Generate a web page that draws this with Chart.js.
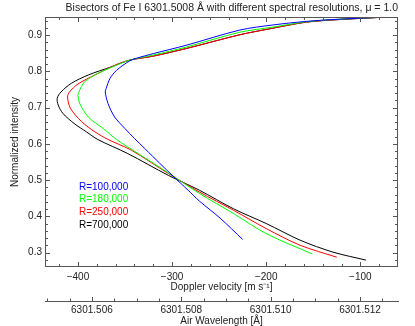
<!DOCTYPE html>
<html>
<head>
<meta charset="utf-8">
<script src="https://cdn.jsdelivr.net/npm/chart.js@4"></script>
<style>
html,body{margin:0;padding:0;background:#fff;}
</style>
</head>
<body>
<canvas id="c" width="415" height="326"></canvas>
<script>
// bisector data: velocity [m/s] vs normalized intensity
const seriesLabels = ['R=100,000', 'R=180,000', 'R=250,000', 'R=700,000'];
const seriesColors = ['#0000ff', '#00ff00', '#ff0000', '#000000'];

const velR100 = [-63, -122, -157, -193, -228, -285, -320, -338, -345, -359, -366, -370, -371, -368, -361, -350, -340, -329, -313, -299, -283, -271, -249, -225];
const intR100 = [0.951, 0.944, 0.938, 0.928, 0.914, 0.872, 0.849, 0.836, 0.829, 0.803, 0.780, 0.753, 0.743, 0.711, 0.674, 0.642, 0.615, 0.587, 0.546, 0.511, 0.472, 0.442, 0.395, 0.336];

const velR180 = [-63, -122, -157, -193, -228, -285, -320, -345, -359, -379, -393, -399, -400, -398, -389, -373, -359, -336, -303, -271, -235, -200, -151];
const intR180 = [0.951, 0.944, 0.937, 0.922, 0.908, 0.867, 0.845, 0.831, 0.817, 0.794, 0.771, 0.743, 0.734, 0.711, 0.674, 0.642, 0.612, 0.573, 0.518, 0.463, 0.408, 0.352, 0.296];

const velR250 = [-63, -122, -157, -193, -228, -285, -320, -345, -358, -382, -400, -409, -411, -408, -396, -382, -368, -343, -304, -271, -235, -200, -164, -125];
const intR250 = [0.951, 0.943, 0.936, 0.919, 0.901, 0.863, 0.842, 0.831, 0.820, 0.790, 0.765, 0.743, 0.729, 0.698, 0.661, 0.633, 0.612, 0.582, 0.518, 0.467, 0.417, 0.366, 0.320, 0.287];

const velR700 = [-63, -122, -157, -193, -228, -285, -320, -345, -365, -389, -407, -418, -422, -421, -416, -404, -391, -379, -347, -304, -271, -235, -200, -164, -129, -94];
const intR700 = [0.951, 0.943, 0.936, 0.919, 0.901, 0.863, 0.842, 0.831, 0.812, 0.790, 0.767, 0.743, 0.726, 0.707, 0.684, 0.656, 0.633, 0.612, 0.573, 0.513, 0.472, 0.421, 0.380, 0.334, 0.301, 0.279];

// tick labels
const velTicks = [-400, -300, -200, -100];
const intTicks = [0.3, 0.4, 0.5, 0.6, 0.7, 0.8, 0.9];
const wlTicks = [6301.506, 6301.508, 6301.510, 6301.512];

const FONT = '"Liberation Sans", Arial, sans-serif';
const axisColor = '#555';
const textColor = '#222';

const toPts = (v, I) => v.map((val, i) => ({x: val, y: I[i]}));
const allVel = [velR100, velR180, velR250, velR700];
const allInt = [intR100, intR180, intR250, intR700];

const datasets = seriesLabels.map((lab, i) => ({
  label: lab,
  data: toPts(allVel[i], allInt[i]),
  borderColor: seriesColors[i],
  backgroundColor: seriesColors[i],
  borderWidth: 1,
  pointRadius: 0,
  showLine: true,
  tension: 0.3,
  fill: false
}));

const minus = v => String(v).replace('-', '\u2212');
const noGrid = {display: false, drawTicks: false, tickLength: 0};

// inward ticks on all four sides + box, upward ticks on wavelength axis
const framePlugin = {
  id: 'frame',
  afterDraw(chart){
    const {ctx, chartArea:{left, right, top, bottom}, scales:{x, y, x2}} = chart;
    ctx.save();
    ctx.strokeStyle = axisColor;
    ctx.lineWidth = 1;
    ctx.strokeRect(left + 0.5, top + 0.5, right - left - 1, bottom - top - 1);
    ctx.beginPath();
    for(let v = -420; v <= -80; v += 20){
      const len = v % 100 === 0 ? 5 : 3;
      const p = Math.round(x.getPixelForValue(v)) + 0.5;
      ctx.moveTo(p, bottom); ctx.lineTo(p, bottom - len);
      ctx.moveTo(p, top); ctx.lineTo(p, top + len);
    }
    for(let k = 14; k <= 47; k++){
      const len = k % 5 === 0 ? 5 : 3;
      const p = Math.round(y.getPixelForValue(k / 50)) + 0.5;
      ctx.moveTo(left, p); ctx.lineTo(left + len, p);
      ctx.moveTo(right, p); ctx.lineTo(right - len, p);
    }
    for(let m = 0; m <= 15; m++){
      const len = m % 4 === 2 ? 4 : 2.5;
      const p = Math.round(x2.getPixelForValue(6301.505 + m * 0.0005)) + 0.5;
      ctx.moveTo(p, x2.top); ctx.lineTo(p, x2.top - len);
    }
    ctx.stroke();
    ctx.restore();
  }
};

// coloured text legend inside the plot
const textLegend = {
  id: 'textLegend',
  afterDatasetsDraw(chart){
    const {ctx, chartArea} = chart;
    ctx.save();
    ctx.font = '10px ' + FONT;
    ctx.textBaseline = 'middle';
    chart.data.datasets.forEach((ds, i) => {
      ctx.fillStyle = ds.borderColor;
      ctx.fillText(ds.label, chartArea.left + 34, chartArea.top + 170 + i * 12.7);
    });
    ctx.restore();
  }
};

new Chart(document.getElementById('c'), {
  type: 'scatter',
  data: {datasets},
  options: {
    responsive: false,
    animation: false,
    devicePixelRatio: 1,
    layout: {padding: {left: 0, right: 17, top: 0, bottom: 0}},
    plugins: {
      legend: {display: false},
      tooltip: {enabled: false},
      title: {
        display: true,
        text: 'Bisectors of Fe I 6301.5008 \u00c5 with different spectral resolutions, \u03bc = 1.0',
        align: 'end',
        color: textColor,
        font: {family: FONT, size: 10.5, weight: 'normal'},
        padding: {top: 2, bottom: 2.4}
      }
    },
    scales: {
      x: {
        type: 'linear', position: 'bottom', weight: 0,
        min: -435, max: -60,
        grid: noGrid,
        border: {display: false},
        afterBuildTicks: s => { s.ticks = velTicks.map(v => ({value: v})); },
        afterFit: s => { s.height = 34; },
        ticks: {color: textColor, padding: 4, font: {family: FONT, size: 10}, callback: v => minus(v)},
        title: {display: true, text: 'Doppler velocity [m s\u207b\u00b9]', color: textColor,
                font: {family: FONT, size: 10}, padding: {top: 0, bottom: 8}}
      },
      x2: {
        type: 'linear', position: 'bottom', weight: 1,
        min: 6301.50495, max: 6301.51285,
        grid: noGrid,
        border: {display: true, color: axisColor, width: 1},
        afterBuildTicks: s => { s.ticks = wlTicks.map(v => ({value: v})); },
        afterFit: s => { s.height = 25; },
        ticks: {color: textColor, padding: 3, font: {family: FONT, size: 10}, callback: v => v.toFixed(3)},
        title: {display: true, text: 'Air Wavelength [\u00c5]', color: textColor,
                font: {family: FONT, size: 10, lineHeight: 1}, padding: {top: 0, bottom: 0}}
      },
      y: {
        type: 'linear', position: 'left',
        min: 0.26, max: 0.95,
        grid: noGrid,
        border: {display: false},
        afterBuildTicks: s => { s.ticks = intTicks.map(v => ({value: v})); },
        afterFit: s => { s.width = 45; },
        ticks: {color: textColor, padding: 3, font: {family: FONT, size: 10}, callback: v => v.toFixed(1)},
        title: {display: true, text: 'Normalized intensity', color: textColor,
                font: {family: FONT, size: 10}, padding: {top: 9, bottom: 0}}
      }
    }
  },
  plugins: [framePlugin, textLegend]
});
</script>
</body>
</html>
